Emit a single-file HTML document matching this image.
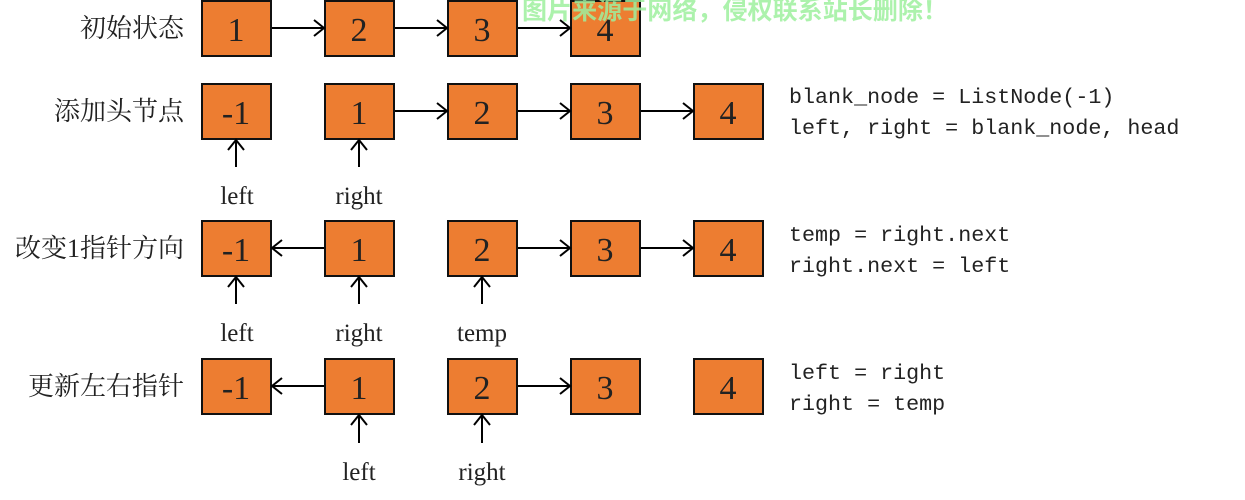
<!DOCTYPE html>
<html><head><meta charset="utf-8"><style>body{margin:0;background:#fff}svg{display:block}</style></head><body>
<svg width="1245" height="500" xmlns="http://www.w3.org/2000/svg">
<defs><marker id="a" markerWidth="14" markerHeight="20" refX="12" refY="10" orient="auto" markerUnits="userSpaceOnUse"><path d="M2,2 L12,10 L2,18" fill="none" stroke="#000" stroke-width="2"/></marker></defs>
<g font-family="'Liberation Serif','Noto Serif CJK SC',serif" font-size="26" fill="#222" text-anchor="end">
<text x="184" y="37">初始状态</text>
<text x="184" y="120">添加头节点</text>
<text x="184" y="257">改变1指针方向</text>
<text x="184" y="395">更新左右指针</text>
</g>
<g fill="#ed7d31" stroke="#111" stroke-width="2">
<rect x="202" y="1" width="69" height="55"/><rect x="325" y="1" width="69" height="55"/><rect x="448" y="1" width="69" height="55"/><rect x="571" y="1" width="69" height="55"/>
<rect x="202" y="84" width="69" height="55"/><rect x="325" y="84" width="69" height="55"/><rect x="448" y="84" width="69" height="55"/><rect x="571" y="84" width="69" height="55"/><rect x="694" y="84" width="69" height="55"/>
<rect x="202" y="221" width="69" height="55"/><rect x="325" y="221" width="69" height="55"/><rect x="448" y="221" width="69" height="55"/><rect x="571" y="221" width="69" height="55"/><rect x="694" y="221" width="69" height="55"/>
<rect x="202" y="359" width="69" height="55"/><rect x="325" y="359" width="69" height="55"/><rect x="448" y="359" width="69" height="55"/><rect x="571" y="359" width="69" height="55"/><rect x="694" y="359" width="69" height="55"/>
</g>
<g font-family="'Liberation Serif',serif" font-size="34" fill="#222" text-anchor="middle">
<text x="236" y="41">1</text><text x="359" y="41">2</text><text x="482" y="41">3</text><text x="605" y="41">4</text>
<text x="236" y="124">-1</text><text x="359" y="124">1</text><text x="482" y="124">2</text><text x="605" y="124">3</text><text x="728" y="124">4</text>
<text x="236" y="261">-1</text><text x="359" y="261">1</text><text x="482" y="261">2</text><text x="605" y="261">3</text><text x="728" y="261">4</text>
<text x="236" y="399">-1</text><text x="359" y="399">1</text><text x="482" y="399">2</text><text x="605" y="399">3</text><text x="728" y="399">4</text>
</g>
<g stroke="#000" stroke-width="2" marker-end="url(#a)">
<line x1="272" y1="28" x2="324" y2="28"/><line x1="395" y1="28" x2="447" y2="28"/><line x1="518" y1="28" x2="570" y2="28"/>
<line x1="395" y1="111" x2="447" y2="111"/><line x1="518" y1="111" x2="570" y2="111"/><line x1="641" y1="111" x2="693" y2="111"/>
<line x1="324" y1="248" x2="272" y2="248"/><line x1="518" y1="248" x2="570" y2="248"/><line x1="641" y1="248" x2="693" y2="248"/>
<line x1="324" y1="386" x2="272" y2="386"/><line x1="518" y1="386" x2="570" y2="386"/>
<line x1="236" y1="167" x2="236" y2="140"/><line x1="359" y1="167" x2="359" y2="140"/>
<line x1="236" y1="304" x2="236" y2="277"/><line x1="359" y1="304" x2="359" y2="277"/><line x1="482" y1="304" x2="482" y2="277"/>
<line x1="359" y1="443" x2="359" y2="415"/><line x1="482" y1="443" x2="482" y2="415"/>
</g>
<g font-family="'Liberation Serif',serif" font-size="25" fill="#222" text-anchor="middle">
<text x="237" y="204">left</text><text x="359" y="204">right</text>
<text x="237" y="341">left</text><text x="359" y="341">right</text><text x="482" y="341">temp</text>
<text x="359" y="480">left</text><text x="482" y="480">right</text>
</g>
<g font-family="'Liberation Mono',monospace" font-size="21.7" fill="#222">
<text x="789" y="103">blank_node = ListNode(-1)</text>
<text x="789" y="134">left, right = blank_node, head</text>
<text x="789" y="241">temp = right.next</text>
<text x="789" y="272">right.next = left</text>
<text x="789" y="379">left = right</text>
<text x="789" y="410">right = temp</text>
</g>
<text x="522" y="19" font-family="'Noto Sans CJK SC',sans-serif" font-weight="bold" font-size="25" fill="#9ef09e" opacity="0.85" textLength="426" lengthAdjust="spacingAndGlyphs">图片来源于网络，侵权联系站长删除！</text>
</svg>
</body></html>
